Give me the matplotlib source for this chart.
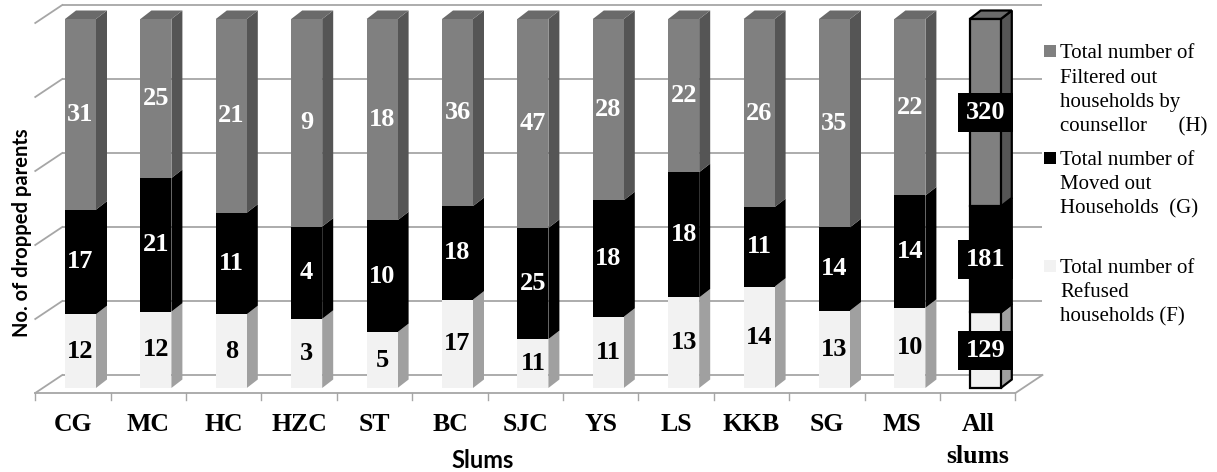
import matplotlib
matplotlib.use('Agg')
import matplotlib.pyplot as plt
from matplotlib.patches import Polygon, Rectangle

# ---------------- data ----------------
categories = ['CG', 'MC', 'HC', 'HZC', 'ST', 'BC', 'SJC', 'YS', 'LS', 'KKB', 'SG', 'MS', 'All\nslums']
refused_F = [12, 12, 8, 3, 5, 17, 11, 11, 13, 14, 13, 10, 129]
moved_G = [17, 21, 11, 4, 10, 18, 25, 18, 18, 11, 14, 14, 181]
filtered_H = [31, 25, 21, 9, 18, 36, 47, 28, 22, 26, 35, 22, 320]
grid_pct = [0, 20, 40, 60, 80, 100]
legend_H = ['Total number of', 'Filtered out', 'households by', 'counsellor      (H)']
legend_G = ['Total number of', 'Moved out', 'Households  (G)']
legend_F = ['Total number of', 'Refused', 'households (F)']
y_title = 'No. of dropped parents'
x_title = 'Slums'

# ---------------- figure / scales ----------------
W, H = 1217, 472
fig = plt.figure(figsize=(W / 100, H / 100), dpi=100)
ax = fig.add_axes([0, 0, 1, 1])
ax.set_axis_off()

X0, SX = 80.5, 75.4     # pixel of first bar centre, pixels per category
Y0, SY = 388.0, 3.69    # pixel (from top) of 0 %, pixels per percent
ax.set_xlim((0 - X0) / SX, (W - X0) / SX)
ax.set_ylim((Y0 - H) / SY, Y0 / SY)


def px(x):
    return (x - X0) / SX


def py(y):
    return (Y0 - y) / SY


def dx(p):
    return p / SX


def dy(p):
    return p / SY


grid_col = '#a6a6a6'
n = len(categories)

# ---------------- walls / floor ----------------
front_left = -0.6
front_right = n - 1 + 0.4
depth_x = dx(27)
depth_y = dy(18)
wall_base = py(375)
wall_scale = (py(5) - py(375)) / 100.0
front_y0 = py(393)

for g in grid_pct:
    wy = wall_base + g * wall_scale
    ax.plot([front_left + depth_x, front_right + depth_x], [wy, wy],
            color=grid_col, lw=1.3, zorder=1, solid_capstyle='butt')
    ax.plot([front_left, front_left + depth_x], [wy - depth_y, wy],
            color=grid_col, lw=1.3, zorder=1)
# floor front edge and right edge
ax.plot([front_left, front_right], [front_y0, front_y0], color=grid_col, lw=1.3, zorder=1)
ax.plot([front_right, front_right + depth_x], [front_y0, wall_base],
        color=grid_col, lw=1.3, zorder=1)
# category tick marks
for k in range(n + 1):
    xt = front_left + k
    ax.plot([xt, xt], [front_y0, front_y0 - dy(7)], color=grid_col, lw=1.0, zorder=1)

# ---------------- bars ----------------
bw = dx(31)
sdx = dx(11)
sdy = dy(8.5)
front_cols = ['#f2f2f2', '#000000', '#808080']
side_cols = ['#a0a0a0', '#000000', '#555555']
top_col = '#6a6a6a'

for i in range(n):
    vals = [refused_F[i], moved_G[i], filtered_H[i]]
    tot = float(sum(vals))
    pcts = [v / tot * 100 for v in vals]
    is_all = (i == n - 1)
    ec = 'black' if is_all else 'none'
    lw = 1.6 if is_all else 0
    bottom = 0.0
    for s in range(3):
        b, t = bottom, bottom + pcts[s]
        xr = i + bw / 2
        side = Polygon([(xr, b), (xr + sdx, b + sdy), (xr + sdx, t + sdy), (xr, t)],
                       closed=True, fc=side_cols[s], ec=ec, lw=lw, zorder=3)
        ax.add_patch(side)
        bottom = t
    # top face
    xl = i - bw / 2
    top = Polygon([(xl, 100), (xl + bw, 100), (xl + bw + sdx, 100 + sdy), (xl + sdx, 100 + sdy)],
                  closed=True, fc=top_col, ec=ec, lw=lw, zorder=3)
    ax.add_patch(top)
    ax.bar([i] * 3, pcts, bottom=[0, pcts[0], pcts[0] + pcts[1]], width=bw,
           color=front_cols, edgecolor=ec, linewidth=lw, zorder=4)

    # data labels
    bottom = 0.0
    for s in range(3):
        yc = bottom + pcts[s] / 2
        bottom += pcts[s]
        if is_all:
            ax.text(i, yc, str(vals[s]), ha='center', va='center', color='white',
                    family='Liberation Serif', weight='bold', fontsize=19, zorder=6,
                    bbox=dict(boxstyle='square,pad=0.3', fc='black', ec='none'))
        else:
            col = 'black' if s == 0 else 'white'
            ax.text(i, yc, str(vals[s]), ha='center', va='center', color=col,
                    family='Liberation Serif', weight='bold', fontsize=19, zorder=6)

# ---------------- category labels / titles ----------------
for i, c in enumerate(categories):
    ax.text(i - 0.1, py(413), c, ha='center', va='top', family='Liberation Serif',
            weight='bold', fontsize=18.5, linespacing=1.5, zorder=6)

ax.text(px(22.5), py(233), y_title, rotation=90, ha='center', va='center',
        family='Lato', weight='bold', fontsize=14.5)
ax.text(px(483), py(460), x_title, ha='center', va='center',
        family='Lato', weight='bold', fontsize=17)

# ---------------- legend ----------------
leg_blocks = [(legend_H, 58.3, '#808080'), (legend_G, 165.0, '#000000'), (legend_F, 272.7, '#f2f2f2')]
for lines, base, col in leg_blocks:
    ax.add_patch(Rectangle((px(1044), py(base - 1)), dx(12), dy(12), fc=col, ec='none', zorder=5))
    for k, line in enumerate(lines):
        ax.text(px(1060), py(base + k * 24.4), line, ha='left', va='baseline',
                family='Liberation Serif', fontsize=15, zorder=5)

fig.savefig('out.png', dpi=100)
